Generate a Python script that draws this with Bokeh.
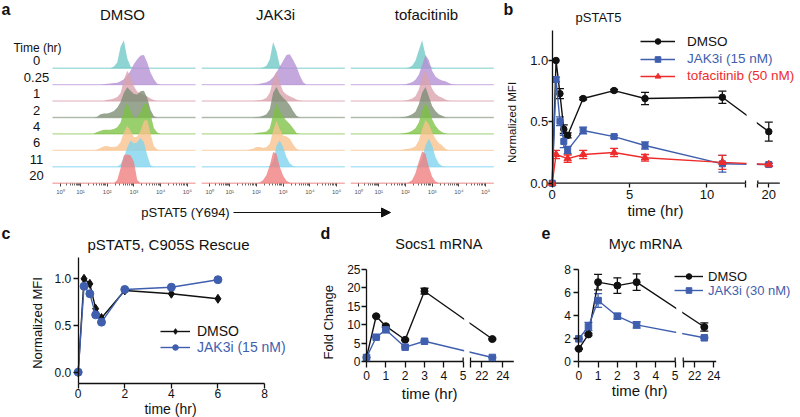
import math
from bokeh.plotting import figure
from bokeh.layouts import column, row
from bokeh.models import (Range1d, FixedTicker, Label, Arrow, NormalHead, Legend, LegendItem,
                          ColumnDataSource, Whisker, TeeHead, BoxAnnotation)
from bokeh.embed import file_html
from bokeh.resources import INLINE

FONT = "Liberation Sans"
BLACK = "#111111"
BLUE = "#3f5fae"
RED = "#ee2c2c"

# ---------------- panel a data (flow histograms on a display-decade grid) ----------------
hist_grid = [1.5, 1.625, 1.75, 1.875, 2.0, 2.125, 2.25, 2.375, 2.5, 2.625, 2.75, 2.875,
             3.0, 3.125, 3.25, 3.375, 3.5, 3.625, 3.75, 3.875, 4.0]
a_conditions = ["DMSO", "JAK3i", "tofacitinib"]
a_times = ["0", "0.25", "1", "2", "4", "6", "11", "20"]
a_colors = ["#6ec8c6", "#b48ed2", "#dba3ad", "#7a8c72", "#7cc242", "#f9c28c", "#7dd4f0", "#f07c7c"]
decade_pos = [0.25, 1.0, 2.0, 3.0, 4.0, 5.0]
decade_labels = ["10⁰", "10¹", "10²", "10³", "10⁴", "10⁵"]

hist_dmso = [
    [0, 0, 0, 0, 0, 0, 0.1, 0.35, 1.3, 1.7, 0.6, 0.1, 0, 0, 0, 0, 0, 0, 0, 0, 0],
    [0, 0, 0, 0.03, 0.05, 0.07, 0.1, 0.12, 0.2, 0.33, 0.55, 0.84, 1.25, 1.55, 1.78, 1.8, 1.35, 0.73, 0.33, 0.06, 0],
    [0, 0, 0, 0, 0.08, 0.1, 0.15, 0.25, 0.47, 1.3, 1.85, 1.5, 0.9, 0.57, 0.47, 0.37, 0.27, 0.16, 0.06, 0, 0],
    [0, 0.05, 0.2, 0.25, 0.25, 0.3, 0.4, 0.6, 0.95, 1.5, 1.84, 1.63, 1.43, 1.4, 1.6, 1.62, 1.2, 0.45, 0.08, 0, 0],
    [0.03, 0.12, 0.2, 0.25, 0.25, 0.25, 0.3, 0.4, 0.7, 1.43, 1.88, 1.43, 0.98, 0.98, 1.33, 1.8, 1.85, 1.2, 0.35, 0.08, 0],
    [0, 0.05, 0.15, 0.25, 0.27, 0.2, 0.2, 0.25, 0.5, 1.1, 1.5, 1.2, 0.8, 0.85, 1.2, 1.8, 1.85, 1.0, 0.25, 0.05, 0],
    [0, 0, 0, 0, 0, 0, 0, 0, 0.15, 0.57, 1.18, 1.6, 1.42, 1.5, 1.75, 1.5, 0.7, 0.1, 0, 0, 0],
    [0, 0, 0, 0, 0, 0, 0, 0.2, 0.9, 1.7, 1.75, 1.7, 1.3, 0.2, 0, 0, 0, 0, 0, 0, 0],
]
hist_jak3i = [
    [0, 0, 0, 0, 0, 0, 0.05, 0.15, 0.55, 1.6, 1.05, 0.15, 0, 0, 0, 0, 0, 0, 0, 0, 0],
    [0, 0, 0, 0, 0.02, 0.05, 0.1, 0.15, 0.25, 0.45, 0.75, 1.1, 1.45, 1.8, 1.85, 1.5, 1.1, 0.55, 0.15, 0, 0],
    [0, 0, 0, 0, 0.03, 0.05, 0.1, 0.2, 0.5, 1.3, 1.8, 1.1, 0.6, 0.4, 0.3, 0.2, 0.1, 0.03, 0, 0, 0],
    [0, 0, 0, 0, 0.03, 0.05, 0.1, 0.2, 0.5, 1.5, 1.85, 1.45, 1.2, 1.0, 0.75, 0.4, 0.1, 0, 0, 0, 0],
    [0, 0, 0, 0, 0.05, 0.08, 0.1, 0.15, 0.35, 1.2, 1.85, 1.4, 1.05, 0.8, 0.6, 0.35, 0.05, 0, 0, 0, 0],
    [0, 0, 0.05, 0.1, 0.2, 0.2, 0.15, 0.2, 0.4, 1.2, 1.8, 1.3, 0.9, 0.85, 0.7, 0.35, 0.1, 0, 0, 0, 0],
    [0, 0, 0, 0, 0, 0, 0, 0, 0.05, 0.3, 1.3, 1.6, 1.2, 0.6, 0.2, 0.05, 0, 0, 0, 0, 0],
    [0, 0, 0, 0, 0, 0.05, 0.2, 0.5, 1.1, 1.9, 1.8, 1.0, 0.45, 0.15, 0.03, 0, 0, 0, 0, 0, 0],
]
hist_tofa = [
    [0, 0, 0, 0, 0, 0.05, 0.15, 0.45, 1.1, 1.7, 0.8, 0.2, 0.03, 0, 0, 0, 0, 0, 0, 0, 0],
    [0, 0, 0, 0, 0.03, 0.08, 0.15, 0.3, 0.6, 1.2, 1.8, 1.5, 0.85, 0.5, 0.35, 0.25, 0.2, 0.1, 0.02, 0, 0],
    [0, 0, 0, 0, 0.03, 0.08, 0.15, 0.3, 0.7, 1.4, 1.9, 1.3, 0.75, 0.45, 0.3, 0.2, 0.1, 0.02, 0, 0, 0],
    [0, 0, 0, 0.03, 0.05, 0.1, 0.2, 0.35, 0.8, 1.5, 1.85, 1.3, 0.7, 0.4, 0.2, 0.1, 0.02, 0, 0, 0, 0],
    [0, 0, 0, 0.03, 0.05, 0.1, 0.2, 0.35, 0.7, 1.4, 1.88, 1.5, 0.9, 0.5, 0.25, 0.1, 0.02, 0, 0, 0, 0],
    [0, 0, 0, 0.03, 0.08, 0.1, 0.15, 0.25, 0.6, 1.3, 1.85, 1.6, 1.1, 0.7, 0.45, 0.3, 0.1, 0, 0, 0, 0],
    [0, 0, 0, 0, 0, 0, 0, 0, 0.1, 0.5, 1.3, 1.7, 1.3, 0.6, 0.2, 0.05, 0, 0, 0, 0, 0],
    [0, 0, 0, 0, 0, 0.05, 0.2, 0.6, 1.3, 1.95, 1.8, 1.0, 0.4, 0.1, 0.02, 0, 0, 0, 0, 0, 0],
]

# ---------------- panel b data ----------------
b_times = [0, 0.25, 0.5, 0.75, 1, 2, 4, 6, 11, 20]
b_dmso = [0, 1.0, 0.73, 0.44, 0.39, 0.69, 0.755, 0.69, 0.70, 0.42]
b_dmso_err = [0, 0, 0.04, 0.035, 0.02, 0.01, 0.01, 0.05, 0.05, 0.077]
b_jak3i = [0, 0.845, 0.505, 0.34, 0.27, 0.43, 0.38, 0.307, 0.158, 0.152]
b_jak3i_err = [0, 0.02, 0.035, 0.05, 0.03, 0.027, 0.01, 0.03, 0.068, 0.01]
b_tofa_times = [0, 0.25, 1, 2, 4, 6, 11, 20]
b_tofa = [0, 0.234, 0.2, 0.234, 0.25, 0.207, 0.17, 0.152]
b_tofa_err = [0, 0.034, 0.03, 0.034, 0.034, 0.027, 0.057, 0.01]

# ---------------- panel c data ----------------
c_times = [0, 0.25, 0.5, 0.75, 1, 2, 4, 6]
c_dmso = [0, 1.0, 0.946, 0.68, 0.58, 0.875, 0.84, 0.786]
c_jak3i = [0, 0.92, 0.84, 0.614, 0.536, 0.886, 0.91, 0.99]

# ---------------- panel d data ----------------
d_times = [0, 0.5, 1, 2, 3, 23]
d_dmso = [1.1, 12.3, 9.6, 5.9, 19.1, 6.1]
d_dmso_err = [0, 0.2, 0.3, 0.2, 0.8, 0.2]
d_jak3i = [1.1, 6.6, 8.6, 3.9, 5.5, 1.1]
d_jak3i_err = [0, 0.2, 0.7, 0.2, 0.2, 0.1]

# ---------------- panel e data ----------------
e_times = [0, 0.5, 1, 2, 3, 23]
e_dmso = [1.1, 2.35, 6.9, 6.6, 6.9, 3.0]
e_dmso_err = [0.05, 0.1, 0.67, 0.68, 0.72, 0.36]
e_jak3i = [1.97, 3.04, 5.3, 3.94, 3.19, 2.06]
e_jak3i_err = [0.05, 0.36, 0.6, 0.25, 0.28, 0.05]

TOP_H = 221          # height of the top row of panels (a, b)
BOT_Y = TOP_H        # page y where the bottom row (c, d, e) starts
BOT_H = 417 - TOP_H


# ---------------- helpers ----------------
def base_fig(width, height, xr, yr, **kw):
    p = figure(width=width, height=height, x_range=Range1d(*xr), y_range=Range1d(*yr),
               output_backend="svg", toolbar_location=None,
               min_border_left=0, min_border_right=0, min_border_top=0, min_border_bottom=0, **kw)
    p.grid.visible = False
    p.outline_line_color = None
    p.background_fill_color = "white"
    p.border_fill_color = "white"
    return p


def style_axis(ax, size="12px", tick_out=4, standoff=2):
    ax.axis_line_color = BLACK
    ax.axis_line_width = 1.3
    ax.major_tick_line_color = BLACK
    ax.major_tick_line_width = 1.3
    ax.major_tick_in = 0
    ax.major_tick_out = int(tick_out)
    ax.minor_tick_line_color = None
    ax.major_label_text_font = FONT
    ax.major_label_text_font_size = size
    ax.major_label_text_color = BLACK
    ax.major_label_standoff = int(standoff)


def set_ticks(ax, ticks, labels):
    ax.ticker = FixedTicker(ticks=ticks)
    ax.major_label_overrides = {t: l for t, l in zip(ticks, labels)}


def lab(p, x, y, text, size, align="center", baseline="middle", angle=0.0, color=BLACK, bold=False):
    p.add_layout(Label(x=x, y=y, text=text, text_font=FONT, text_font_size=f"{size}px",
                       text_align=align, text_baseline=baseline, angle=angle, text_color=color,
                       text_font_style="bold" if bold else "normal"))


def brk(t, seg1_end, t2, x2, s2):
    return t if t <= seg1_end else x2 + (t - t2) * s2


def series(p, xs, ys, errs, color, marker, size, cap=8):
    src = ColumnDataSource(dict(x=xs, y=ys))
    if errs is not None:
        ex = [x for x, e in zip(xs, errs) if e > 0]
        up = [y + e for y, e in zip(ys, errs) if e > 0]
        lo = [y - e for y, e in zip(ys, errs) if e > 0]
        wsrc = ColumnDataSource(dict(x=ex, upper=up, lower=lo))
        p.add_layout(Whisker(source=wsrc, base="x", upper="upper", lower="lower",
                             line_color=color, line_width=1.3,
                             upper_head=TeeHead(size=cap, line_color=color, line_width=1.3),
                             lower_head=TeeHead(size=cap, line_color=color, line_width=1.3)))
    ln = p.line("x", "y", source=src, line_color=color, line_width=1.4)
    sc = p.scatter("x", "y", source=src, marker=marker, size=size, fill_color=color, line_color=color)
    return [ln, sc]


def legend(p, renderers, text, color, vx, vy, gw, standoff, size):
    leg = Legend(items=[LegendItem(label=text, renderers=renderers)], location=(vx, vy),
                 orientation="vertical", padding=0, margin=0, spacing=0,
                 glyph_width=gw, glyph_height=14, label_height=14, label_standoff=standoff,
                 label_text_font=FONT, label_text_font_size=f"{size}px", label_text_color=color,
                 border_line_color=None, background_fill_alpha=0)
    p.add_layout(leg)


# ================= panel a (canvas x 0..500, y 0..TOP_H) =================
def a_x(px): return 2 + (px - 106.7) / 26.7
def a_y(py): return 7 - (py - 67.7) / 16.43


pa = base_fig(500, TOP_H, (a_x(0), a_x(500)), (a_y(TOP_H), a_y(0)), y_axis_location=None)
col_offsets = [0.0, 5.59, 11.17]
col_span = (-0.05, 5.31)
hists = [hist_dmso, hist_jak3i, hist_tofa]
for r in range(len(a_times)):
    base = 7 - r
    for c, hist in enumerate(hists):
        off = col_offsets[c]
        pa.segment(x0=[off + col_span[0]], y0=[base], x1=[off + col_span[1]], y1=[base],
                   line_color=a_colors[r], line_width=1.4, line_alpha=0.6)
        xs = [g + off for g in hist_grid]
        pa.varea(x=xs, y1=[base] * len(xs), y2=[base + h for h in hist[r]],
                 fill_color=a_colors[r], fill_alpha=0.78)

major = [off + d for off in col_offsets for d in decade_pos]
minor = []
for off in col_offsets:
    for k in range(2, 10):
        minor.append(off + 0.25 + 0.75 * math.log10(k))
        for d in (1, 2, 3, 4):
            minor.append(off + d + math.log10(k))
ax = pa.xaxis[0]
ax.fixed_location = 0
ax.ticker = FixedTicker(ticks=major, minor_ticks=minor)
ax.major_label_overrides = {off + d: l for off in col_offsets for d, l in zip(decade_pos, decade_labels)}
ax.axis_line_color = None
ax.major_tick_line_color = "#444444"
ax.major_tick_in = 0
ax.major_tick_out = 3
ax.minor_tick_line_color = "#666666"
ax.minor_tick_in = 0
ax.minor_tick_out = 2
ax.major_label_text_font = FONT
ax.major_label_text_font_size = "6px"
ax.major_label_text_color = "#555555"
ax.major_label_standoff = 3

lab(pa, a_x(1), a_y(9), "a", 16, align="left", bold=True)
for name, cx in zip(a_conditions, [122, 275, 426]):
    lab(pa, a_x(cx), a_y(14), name, 15)
lab(pa, a_x(37), a_y(47), "Time (hr)", 12)
for r, t in enumerate(a_times):
    lab(pa, a_x(36), 7 - r + 0.45, t, 13)
lab(pa, a_x(185), a_y(212), "pSTAT5 (Y694)", 13)
pa.add_layout(Arrow(end=NormalHead(size=9, fill_color=BLACK, line_color=BLACK),
                    x_start=a_x(233), y_start=a_y(212), x_end=a_x(390), y_end=a_y(212),
                    line_color=BLACK, line_width=1.2))


# ================= panel b (canvas x 500..800, y 0..TOP_H) =================
def b_x(px): return (px - 551.7) / 15.47
def b_y(py): return (182.7 - py) / 122.7


B_BRK = (12.5, 19.29, 13.29, 1.0)
pb = base_fig(300, TOP_H, (b_x(500), b_x(800)), (b_y(TOP_H), b_y(0)))
style_axis(pb.xaxis[0], "13px", 4, 3)
style_axis(pb.yaxis[0], "13px", 4, 0)
pb.xaxis.fixed_location = 0
pb.yaxis.fixed_location = 0
pb.yaxis.bounds = (0, b_y(30))
pb.xaxis.axis_line_color = None
set_ticks(pb.xaxis[0], [0, 5, 10, B_BRK[0], B_BRK[2], brk(20, *B_BRK)], ["0", "5", "10", "", "", "20"])
set_ticks(pb.yaxis[0], [0, 0.5, 1.0], ["0.0", "0.5", "1.0"])
pb.segment(x0=[0, B_BRK[2]], y0=[0, 0], x1=[B_BRK[0], b_x(779.3)], y1=[0, 0], line_color=BLACK, line_width=1.3)
pb.segment(x0=[B_BRK[0], B_BRK[2]], y0=[0, 0], x1=[B_BRK[0], B_BRK[2]], y1=[b_y(180), b_y(180)],
           line_color=BLACK, line_width=1.3)

rb1 = series(pb, [brk(t, *B_BRK) for t in b_times], b_dmso, b_dmso_err, BLACK, "circle", 6.5)
rb2 = series(pb, [brk(t, *B_BRK) for t in b_times], b_jak3i, b_jak3i_err, BLUE, "square", 6)
rb3 = series(pb, [brk(t, *B_BRK) for t in b_tofa_times], b_tofa, b_tofa_err, RED, "triangle", 7.5)
pb.add_layout(BoxAnnotation(left=B_BRK[0] + 1 / 15.47, right=B_BRK[2] - 1 / 15.47, bottom=b_y(181.5), top=b_y(30),
                            fill_color="white", fill_alpha=1.0, line_color=None))
for rr, txt, col, yc in [(rb1, "DMSO", BLACK, 41.7), (rb2, "JAK3i (15 nM)", BLUE, 59.3),
                         (rb3, "tofacitinib (50 nM)", RED, 76.0)]:
    legend(pb, rr, txt, col, 640 - 500, TOP_H - yc - 7, 35, 12, 13.5)
lab(pb, b_x(503), b_y(9), "b", 16, align="left", bold=True)
lab(pb, b_x(598), b_y(17), "pSTAT5", 13)
lab(pb, b_x(511.7), b_y(122), "Normalized MFI", 11.5, angle=math.pi / 2)
lab(pb, b_x(655), b_y(210), "time (hr)", 15)


# ================= panel c (canvas x 0..300, y BOT_Y..417) =================
def c_x(px): return (px - 77.7) / 23.29
def c_y(py): return (371.7 - py) / 93.4


pc = base_fig(300, BOT_H, (c_x(0), c_x(300)), (c_y(417), c_y(BOT_Y)))
style_axis(pc.xaxis[0], "12px", 5, 0)
style_axis(pc.yaxis[0], "12px", 5, 2)
pc.xaxis.fixed_location = c_y(383.3)
pc.yaxis.fixed_location = 0
pc.xaxis.bounds = (0, 8)
pc.yaxis.bounds = (c_y(383.3), c_y(256.7))
set_ticks(pc.xaxis[0], [0, 2, 4, 6, 8], ["0", "2", "4", "6", "8"])
set_ticks(pc.yaxis[0], [0, 0.5, 1.0], ["0.0", "0.5", "1.0"])
rc1 = series(pc, c_times, c_dmso, None, BLACK, "diamond", 9)
rc2 = series(pc, c_times, c_jak3i, None, BLUE, "circle", 8)
legend(pc, rc1, "DMSO", BLACK, 160, 417 - 331.7 - 7, 30, 7, 14)
legend(pc, rc2, "JAK3i (15 nM)", BLUE, 160, 417 - 348.3 - 7, 30, 7, 14)
lab(pc, c_x(1), c_y(232.5), "c", 16, align="left", bold=True)
lab(pc, c_x(168), c_y(243.8), "pSTAT5, C905S Rescue", 15)
lab(pc, c_x(36.7), c_y(322.5), "Normalized MFI", 13, angle=math.pi / 2)
lab(pc, c_x(170), c_y(408.3), "time (hr)", 14)


# ================= panel d (canvas x 300..540, y BOT_Y..417) =================
def d_x(px): return (px - 366) / 19.33
def d_y(py): return (361 - py) / 3.68


D_BRK = (5.0, 20.92, 5.38, 0.543)
pd_ = base_fig(240, BOT_H, (d_x(300), d_x(540)), (d_y(417), d_y(BOT_Y)))
style_axis(pd_.xaxis[0], "12px", 6, 3)
style_axis(pd_.yaxis[0], "12px", 5, 1)
pd_.xaxis.fixed_location = 0
pd_.yaxis.fixed_location = 0
pd_.yaxis.bounds = (0, 25)
pd_.xaxis.axis_line_color = None
set_ticks(pd_.xaxis[0], [0, 1, 2, 3, 4, 5, D_BRK[2], brk(22, *D_BRK), brk(24, *D_BRK)],
          ["0", "1", "2", "3", "4", "5", "", "22", "24"])
set_ticks(pd_.yaxis[0], [0, 5, 10, 15, 20, 25], ["0", "5", "10", "15", "20", "25"])
pd_.segment(x0=[0, D_BRK[2]], y0=[0, 0], x1=[D_BRK[0], d_x(513.3)], y1=[0, 0], line_color=BLACK, line_width=1.3)
pd_.segment(x0=[D_BRK[0], D_BRK[2]], y0=[0, 0], x1=[D_BRK[0], D_BRK[2]], y1=[d_y(357), d_y(357)],
            line_color=BLACK, line_width=1.3)
series(pd_, [brk(t, *D_BRK) for t in d_times], d_dmso, d_dmso_err, BLACK, "circle", 7)
series(pd_, [brk(t, *D_BRK) for t in d_times], d_jak3i, d_jak3i_err, BLUE, "square", 6.5)
pd_.add_layout(BoxAnnotation(left=D_BRK[0] + 1 / 19.33, right=D_BRK[2] - 1 / 19.33, bottom=d_y(359.5), top=25,
                             fill_color="white", fill_alpha=1.0, line_color=None))
lab(pd_, d_x(320), d_y(232.5), "d", 16, align="left", bold=True)
lab(pd_, d_x(438.3), d_y(243.8), "Socs1 mRNA", 14.5)
lab(pd_, d_x(328.3), d_y(321.7), "Fold Change", 13, angle=math.pi / 2)
lab(pd_, d_x(429.2), d_y(393.3), "time (hr)", 15)


# ================= panel e (canvas x 540..800, y BOT_Y..417) =================
def e_x(px): return (px - 578.3) / 19.28
def e_y(py): return (361 - py) / 11.5


E_BRK = (5.0, 20.78, 5.415, 0.493)
pe = base_fig(260, BOT_H, (e_x(540), e_x(800)), (e_y(417), e_y(BOT_Y)))
style_axis(pe.xaxis[0], "12px", 6, 3)
style_axis(pe.yaxis[0], "12px", 5, 3)
pe.xaxis.fixed_location = 0
pe.yaxis.fixed_location = 0
pe.yaxis.bounds = (0, 8)
pe.xaxis.axis_line_color = None
set_ticks(pe.xaxis[0], [0, 1, 2, 3, 4, 5, E_BRK[2], brk(22, *E_BRK), brk(24, *E_BRK)],
          ["0", "1", "2", "3", "4", "5", "", "22", "24"])
set_ticks(pe.yaxis[0], [0, 2, 4, 6, 8], ["0", "2", "4", "6", "8"])
pe.segment(x0=[0, E_BRK[2]], y0=[0, 0], x1=[E_BRK[0], e_x(715.7)], y1=[0, 0], line_color=BLACK, line_width=1.3)
pe.segment(x0=[E_BRK[0], E_BRK[2]], y0=[0, 0], x1=[E_BRK[0], E_BRK[2]], y1=[e_y(357), e_y(357)],
           line_color=BLACK, line_width=1.3)
re1 = series(pe, [brk(t, *E_BRK) for t in e_times], e_dmso, e_dmso_err, BLACK, "circle", 7)
re2 = series(pe, [brk(t, *E_BRK) for t in e_times], e_jak3i, e_jak3i_err, BLUE, "square", 6.5)
pe.add_layout(BoxAnnotation(left=E_BRK[0] + 1 / 19.28, right=E_BRK[2] - 1 / 19.28, bottom=e_y(359.5), top=8,
                            fill_color="white", fill_alpha=1.0, line_color=None))
legend(pe, re1, "DMSO", BLACK, 674 - 540, 417 - 276.7 - 7, 29, 5, 13)
legend(pe, re2, "JAK3i (30 nM)", BLUE, 674 - 540, 417 - 290.7 - 7, 29, 5, 13)
lab(pe, e_x(541), e_y(232.5), "e", 16, align="left", bold=True)
lab(pe, e_x(645), e_y(243.8), "Myc mRNA", 14.5)
lab(pe, e_x(639.2), e_y(390), "time (hr)", 15)

layout = column(row(pa, pb), row(pc, pd_, pe))
open("out.html", "w").write(file_html(layout, INLINE))
